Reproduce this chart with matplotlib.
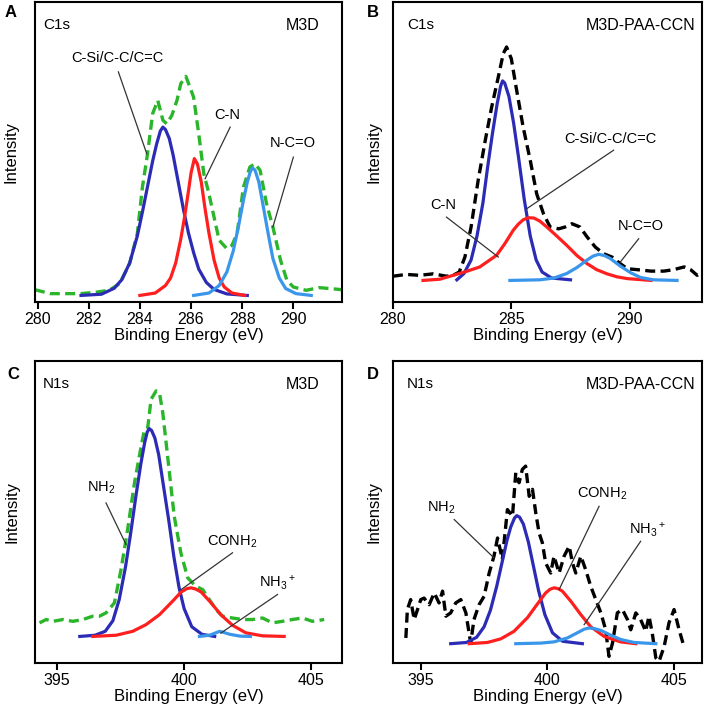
import matplotlib
matplotlib.use("Agg")
import matplotlib.pyplot as plt

plt.rcParams["font.family"] = ["Liberation Sans", "DejaVu Sans"]
plt.rcParams["mathtext.fontset"] = "custom"
plt.rcParams["mathtext.rm"] = "Liberation Sans"
plt.rcParams["mathtext.it"] = "Liberation Sans"

GREEN = "#2ab52a"
BLUE = "#2b2bb5"
RED = "#ff1f1f"
LBLUE = "#3a96ea"

# ---- panel A : C1s, M3D ----
a_raw_x = [279.9, 280.5, 281.7, 282.3, 282.8, 283.2, 283.6, 283.9, 284.1, 284.3, 284.5, 284.7,
           284.9, 285.05, 285.25, 285.45, 285.6, 285.8, 286.0, 286.1, 286.3, 286.5, 286.7, 286.9,
           287.1, 287.4, 287.6, 287.8, 288.05, 288.3, 288.5, 288.7, 288.95, 289.2, 289.5, 289.75,
           290.0, 290.5, 291.0, 291.55, 291.9]
a_raw_y = [4.1, 2.8, 2.8, 3.3, 3.9, 6.1, 12.8, 22.8, 38.3, 49.4, 62.8, 67.2,
           60.6, 59.4, 62.2, 67.2, 72.8, 75.2, 70.6, 68.3, 56.1, 42.8, 36.1, 28.3,
           20.6, 17.8, 18.9, 22.8, 38.3, 45.0, 46.1, 43.9, 32.8, 25.0, 13.9, 7.2,
           5.0, 3.9, 4.8, 4.4, 4.1]
a_csi_x = [281.7, 282.5, 283.0, 283.3, 283.6, 283.9, 284.1, 284.3, 284.5, 284.65, 284.8, 284.9,
           285.0, 285.15, 285.3, 285.5, 285.7, 285.9, 286.1, 286.3, 286.6, 286.9, 287.4, 288.2]
a_csi_y = [2.2, 2.6, 4.6, 7.5, 13.0, 22.0, 30.0, 38.5, 47.0, 52.5, 57.0, 58.3,
           57.5, 54.5, 49.0, 40.0, 31.0, 23.0, 16.5, 11.0, 6.5, 4.2, 2.7, 2.2]
a_cn_x = [284.0, 284.6, 285.0, 285.2, 285.4, 285.6, 285.75, 285.9, 286.0, 286.13, 286.25, 286.4,
          286.55, 286.7, 286.9, 287.1, 287.3, 287.6, 288.1]
a_cn_y = [2.2, 3.0, 5.5, 8.0, 13.0, 21.0, 28.5, 37.0, 43.0, 47.8, 46.0, 40.0,
          31.0, 23.0, 14.0, 8.0, 5.0, 3.0, 2.2]
a_nco_x = [286.1, 286.7, 287.1, 287.4, 287.65, 287.85, 288.05, 288.2, 288.32, 288.4, 288.5, 288.65,
           288.8, 289.0, 289.2, 289.45, 289.7, 290.1, 290.7]
a_nco_y = [2.2, 3.0, 5.5, 10.0, 17.0, 25.0, 34.0, 40.0, 43.5, 44.7, 44.0, 40.0,
           33.0, 23.5, 14.5, 8.0, 4.5, 2.8, 2.2]

# ---- panel B : C1s, M3D-PAA-CCN ----
b_raw_x = [280.0, 280.56, 281.13, 281.7, 282.26, 282.54, 282.8, 283.04, 283.3, 283.6, 283.9,
           284.17, 284.45, 284.66, 284.8, 285.0, 285.2, 285.5, 285.8, 286.07, 286.36, 286.64,
           287.0, 287.27, 287.56, 287.9, 288.2, 288.55, 288.9, 289.25, 289.6, 289.9, 290.3,
           290.9, 291.44, 291.86, 292.3, 292.57, 292.85, 293.06]
b_raw_y = [8.6, 9.2, 8.9, 9.4, 8.6, 8.9, 10.0, 15.0, 25.0, 40.6, 53.9,
           65.0, 75.0, 82.8, 85.0, 81.1, 71.7, 58.3, 47.2, 36.1, 29.4, 25.0,
           24.4, 25.0, 26.1, 25.0, 21.7, 18.3, 16.1, 15.0, 12.8, 11.1, 10.8,
           10.3, 10.3, 10.8, 11.7, 10.8, 8.9, 10.0]
b_csi_x = [282.7, 283.0, 283.3, 283.55, 283.8, 284.0, 284.2, 284.4, 284.55, 284.63, 284.72,
           284.9, 285.1, 285.3, 285.55, 285.8, 286.05, 286.3, 286.7, 287.5]
b_csi_y = [7.4, 9.5, 14.0, 22.0, 33.0, 45.0, 56.0, 66.0, 72.0, 73.7, 73.0,
           68.5, 59.5, 48.5, 34.0, 22.0, 14.0, 10.0, 8.0, 7.4]
b_cn_x = [281.27, 281.98, 282.54, 283.1, 283.67, 284.38, 284.73, 285.08, 285.3, 285.5, 285.72,
          285.95, 286.2, 286.5, 286.92, 287.34, 287.77, 288.2, 288.6, 289.04, 289.46, 289.9,
          290.9]
b_cn_y = [7.2, 7.6, 8.9, 10.2, 11.7, 15.6, 19.5, 23.9, 26.0, 27.4, 28.1,
          28.0, 27.0, 25.0, 22.0, 18.9, 15.5, 12.8, 10.8, 9.4, 8.4, 7.8,
          7.2]
b_nco_x = [284.94, 286.2, 286.8, 287.34, 287.77, 288.2, 288.45, 288.69, 288.93, 289.18, 289.6,
           290.03, 290.45, 291.0, 292.0]
b_nco_y = [7.2, 7.4, 8.0, 9.5, 11.5, 14.0, 15.3, 15.9, 15.5, 14.5, 12.0,
           9.8, 8.2, 7.4, 7.2]

# ---- panel C : N1s, M3D ----
c_raw_x = [394.32, 394.58, 394.84, 395.24, 395.63, 396.02, 396.41, 396.67, 396.93, 397.26,
           397.52, 397.78, 398.05, 398.24, 398.44, 398.57, 398.7, 398.9, 399.03, 399.16, 399.35,
           399.61, 399.87, 400.14, 400.46, 400.73, 400.99, 401.25, 401.51, 401.9, 402.3, 402.69,
           403.08, 403.47, 403.86, 404.25, 404.65, 405.04, 405.5]
c_raw_y = [13.3, 14.4, 13.8, 14.4, 13.8, 14.4, 15.5, 15.5, 16.6, 19.9,
           30.9, 44.2, 59.7, 68.5, 77.3, 77.9, 87.3, 90.1, 89.5, 82.9, 68.5,
           48.6, 36.5, 28.2, 25.4, 24.3, 21.0, 17.7, 15.5, 14.9, 14.4, 14.4,
           14.9, 13.3, 13.8, 14.4, 14.9, 13.8, 14.4]
c_nh2_x = [395.9, 396.5, 396.9, 397.2, 397.45, 397.7, 397.9, 398.1, 398.3, 398.45, 398.55,
           398.63, 398.72, 398.85, 399.0, 399.2, 399.4, 399.6, 399.8, 400.0, 400.3, 400.7, 401.2]
c_nh2_y = [8.8, 9.2, 10.5, 14.0, 21.0, 32.0, 43.0, 55.0, 66.0, 73.0, 76.5,
           77.6, 77.0, 74.5, 69.0, 58.0, 47.0, 35.0, 25.0, 18.0, 12.0, 9.5, 8.8]
c_conh2_x = [396.41, 397.33, 397.98, 398.5, 399.03, 399.55, 399.88, 400.1, 400.27, 400.45,
             400.67, 401.05, 401.44, 401.9, 402.42, 403.08, 403.93]
c_conh2_y = [8.8, 9.2, 10.5, 12.7, 16.0, 20.5, 23.5, 24.6, 24.9, 24.5,
             23.5, 20.0, 16.0, 12.5, 10.0, 9.0, 8.8]
c_nh3_x = [400.6, 401.0, 401.4, 401.8, 402.2, 402.6]
c_nh3_y = [8.8, 9.2, 10.5, 9.5, 8.9, 8.8]

# ---- panel D : N1s, M3D-PAA-CCN ----
d_raw_x = [394.41, 394.47, 394.6, 394.74, 394.87, 395.0, 395.13, 395.33, 395.53, 395.72, 395.86,
           395.99, 396.18, 396.38, 396.58, 396.78, 396.97, 397.1, 397.3, 397.5, 397.7, 397.89,
           398.03, 398.22, 398.42, 398.62, 398.75, 398.88, 399.01, 399.14, 399.28, 399.41,
           399.54, 399.67, 399.8, 399.93, 400.13, 400.26, 400.46, 400.66, 400.86, 400.99,
           401.12, 401.32, 401.51, 401.71, 401.91, 402.11, 402.3, 402.43, 402.57, 402.76,
           402.96, 403.16, 403.29, 403.49, 403.68, 403.88, 404.01, 404.14, 404.28, 404.41,
           404.61, 404.8, 405.0, 405.2, 405.39]
d_raw_y = [8.3, 17.7, 21.0, 14.4, 17.7, 21.0, 21.5, 19.3, 23.2, 19.9, 23.8,
           15.5, 16.6, 19.9, 21.0, 16.6, 6.6, 14.4, 19.3, 22.1, 29.8, 35.4,
           41.4, 34.3, 50.8, 48.6, 63.0, 59.7, 64.1, 65.2, 55.2, 57.5,
           49.7, 43.1, 39.8, 33.1, 29.8, 35.4, 29.8, 35.4, 38.7, 33.1,
           29.8, 35.4, 30.9, 25.4, 21.0, 16.6, 11.0, 2.2, 6.6, 16.6,
           17.7, 14.4, 11.0, 16.6, 14.4, 10.5, 15.5, 9.9, 1.7, 0.6,
           5.5, 13.3, 17.7, 11.0, 5.5]
d_nh2_x = [396.18, 396.8, 397.2, 397.5, 397.75, 398.0, 398.2, 398.4, 398.55, 398.7, 398.79,
           398.9, 399.05, 399.25, 399.45, 399.65, 399.9, 400.2, 400.6, 401.38]
d_nh2_y = [6.4, 6.8, 8.5, 12.0, 17.5, 25.5, 33.0, 40.5, 45.0, 48.0, 48.8,
           48.3, 46.0, 40.0, 32.0, 24.0, 16.0, 10.0, 7.2, 6.4]
d_conh2_x = [396.91, 397.63, 398.16, 398.68, 399.21, 399.6, 399.93, 400.1, 400.26, 400.43,
             400.59, 400.92, 401.32, 401.71, 402.24, 402.89, 403.49]
d_conh2_y = [6.4, 6.8, 8.0, 10.5, 15.0, 19.5, 23.2, 24.4, 24.9, 24.6,
             23.8, 20.5, 16.0, 12.0, 8.8, 7.0, 6.4]
d_nh3_x = [398.75, 399.74, 400.26, 400.79, 401.18, 401.45, 401.64, 401.85, 402.11, 402.5,
           402.89, 403.42, 404.28]
d_nh3_y = [6.4, 6.6, 7.0, 8.3, 10.0, 11.2, 11.6, 11.4, 10.8, 9.2,
           7.8, 6.8, 6.4]

NH2 = r"NH$_2$"
CONH2 = r"CONH$_2$"
NH3 = r"NH$_3$$^+$"

panels = [
    dict(letter="A", core="C1s", sample="M3D", pos=[0.0494, 0.5764, 0.4336, 0.4208],
         xlim=(279.9, 291.9), xticks=[280, 282, 284, 286, 288, 290], raw_color=GREEN,
         raw=(a_raw_x, a_raw_y), lp=12, fits=[(a_csi_x, a_csi_y, BLUE), (a_cn_x, a_cn_y, RED),
                                               (a_nco_x, a_nco_y, LBLUE)],
         notes=[("C-Si/C-C/C=C", (283.13, 81.5), (283.16, 76.7), (284.27, 49.4)),
                ("C-N", (287.42, 62.5), (287.53, 58.3), (286.55, 41.1)),
                ("N-C=O", (289.96, 53.0), (290.0, 48.3), (289.2, 25.0))]),
    dict(letter="B", core="C1s", sample="M3D-PAA-CCN", pos=[0.555, 0.5764, 0.4364, 0.4208],
         xlim=(280.0, 293.05), xticks=[280, 285, 290], raw_color="black",
         raw=(b_raw_x, b_raw_y), lp=8, fits=[(b_csi_x, b_csi_y, BLUE), (b_cn_x, b_cn_y, RED),
                                              (b_nco_x, b_nco_y, LBLUE)],
         notes=[("C-Si/C-C/C=C", (289.18, 54.5), (289.32, 50.6), (285.65, 31.1)),
                ("C-N", (282.12, 32.5), (282.26, 28.3), (284.45, 15.0)),
                ("N-C=O", (290.45, 25.2), (290.38, 21.1), (289.6, 13.3))]),
    dict(letter="C", core="N1s", sample="M3D", pos=[0.0494, 0.0701, 0.4336, 0.4236],
         xlim=(394.14, 406.2), xticks=[395, 400, 405], raw_color=GREEN,
         raw=(c_raw_x, c_raw_y), lp=11, fits=[(c_nh2_x, c_nh2_y, BLUE), (c_conh2_x, c_conh2_y, RED),
                                               (c_nh3_x, c_nh3_y, LBLUE)],
         notes=[(NH2, (396.74, 58.0), (396.93, 53.0), (397.72, 39.2)),
                (CONH2, (401.9, 40.0), (401.9, 36.5), (399.88, 24.3)),
                (NH3, (403.67, 26.5), (403.67, 22.7), (401.44, 9.9))]),
    dict(letter="D", core="N1s", sample="M3D-PAA-CCN", pos=[0.555, 0.0701, 0.4364, 0.4236],
         xlim=(393.9, 406.1), xticks=[395, 400, 405], raw_color="black",
         raw=(d_raw_x, d_raw_y), lp=8, fits=[(d_nh2_x, d_nh2_y, BLUE), (d_conh2_x, d_conh2_y, RED),
                                              (d_nh3_x, d_nh3_y, LBLUE)],
         notes=[(NH2, (395.79, 51.5), (396.32, 47.5), (397.89, 34.8)),
                (CONH2, (402.17, 56.0), (402.04, 51.9), (400.46, 24.3)),
                (NH3, (403.95, 44.0), (403.68, 40.3), (401.45, 12.7))]),
]

fig = plt.figure(figsize=(7.08, 7.13), dpi=100)

for p in panels:
    ax = fig.add_axes(p["pos"])
    ax.plot(p["raw"][0], p["raw"][1], color=p["raw_color"], lw=2.4,
            linestyle=(0, (3, 1.6)), zorder=2)
    for fx, fy, col in p["fits"]:
        ax.plot(fx, fy, color=col, lw=2.3, zorder=3, solid_joinstyle="round")
    for label, txt, start, end in p["notes"]:
        ax.plot([start[0], end[0]], [start[1], end[1]], color="#333333", lw=0.9, zorder=4)
        ax.text(txt[0], txt[1], label, ha="center", va="center", fontsize=10.5)

    ax.set_xlim(*p["xlim"])
    ax.set_ylim(0, 100)
    ax.set_xticks(p["xticks"])
    ax.set_yticks([])
    for s in ax.spines.values():
        s.set_linewidth(1.5)
    ax.tick_params(axis="x", direction="out", length=5, width=1.5, labelsize=11.5, pad=2)
    ax.set_xlabel("Binding Energy (eV)", fontsize=12, labelpad=1)
    ax.set_ylabel("Intensity", fontsize=12, labelpad=p["lp"])

    ax.text(0.026 if p["letter"] in "AC" else 0.046, 0.923, p["core"], transform=ax.transAxes,
            ha="left", va="center", fontsize=11)
    ax.text(0.928 if p["letter"] in "AC" else 0.98, 0.923, p["sample"], transform=ax.transAxes,
            ha="right", va="center", fontsize=11.5)

fig.text(0.0155, 0.983, "A", fontsize=12, fontweight="bold", ha="center", va="center")
fig.text(0.527, 0.983, "B", fontsize=12, fontweight="bold", ha="center", va="center")
fig.text(0.019, 0.475, "C", fontsize=12, fontweight="bold", ha="center", va="center")
fig.text(0.526, 0.475, "D", fontsize=12, fontweight="bold", ha="center", va="center")

fig.savefig("out.png", dpi=100)
